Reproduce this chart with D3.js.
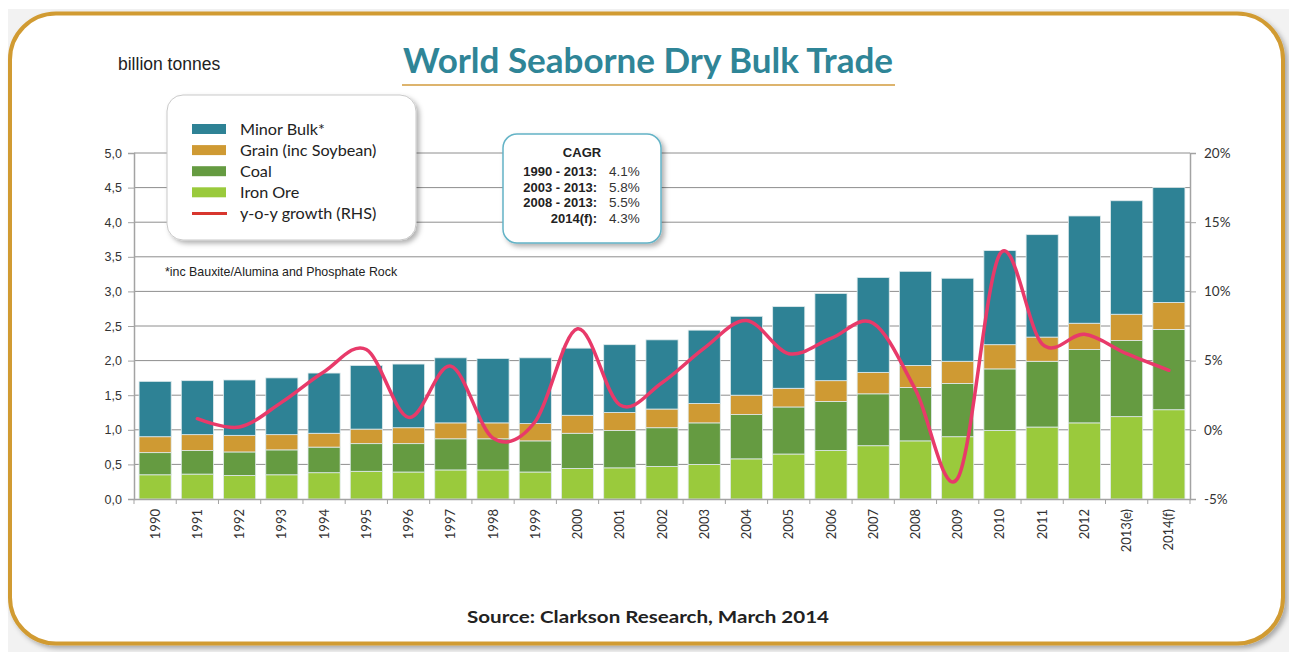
<!DOCTYPE html>
<html>
<head>
<meta charset="utf-8">
<script src="https://cdn.jsdelivr.net/npm/d3@7"></script>
<style>
  body { margin: 0; background: #fff; }
  svg { display: block; }
</style>
</head>
<body>
<svg id="chart" width="1289" height="652"></svg>
<script>
// values (billion tonnes, growth in %)
var years = ['1990','1991','1992','1993','1994','1995','1996','1997','1998','1999','2000','2001','2002',
             '2003','2004','2005','2006','2007','2008','2009','2010','2011','2012','2013(e)','2014(f)'];
var ironOre   = [0.35,0.36,0.34,0.35,0.38,0.40,0.39,0.42,0.42,0.39,0.44,0.45,0.47,0.50,0.58,0.65,0.70,0.77,0.84,0.90,0.99,1.04,1.10,1.19,1.29];
var coal      = [0.32,0.34,0.34,0.36,0.37,0.40,0.41,0.45,0.45,0.45,0.51,0.54,0.56,0.60,0.64,0.68,0.71,0.75,0.77,0.77,0.89,0.95,1.06,1.10,1.16];
var grain     = [0.23,0.23,0.24,0.22,0.20,0.21,0.23,0.23,0.23,0.25,0.26,0.26,0.27,0.28,0.28,0.27,0.30,0.31,0.32,0.32,0.35,0.35,0.38,0.38,0.39];
var minorBulk = [0.80,0.78,0.80,0.82,0.87,0.92,0.92,0.94,0.93,0.95,0.97,0.98,1.00,1.06,1.14,1.18,1.26,1.37,1.36,1.20,1.36,1.48,1.55,1.64,1.66];
var growth    = [null,0.8,0.2,2.0,4.2,5.8,0.9,4.6,-0.6,0.6,7.3,1.8,3.4,5.9,7.9,5.5,6.6,7.7,2.9,-3.5,12.7,6.2,6.9,5.5,4.3];

var leftTicks  = [0,0.5,1,1.5,2,2.5,3,3.5,4,4.5,5];
var rightTicks = [-5,0,5,10,15,20];

var seriesKeys   = ['iron','coal','grain','minor'];
var seriesColors = {iron:'#9aca3c', coal:'#659b41', grain:'#cf9a33', minor:'#2e8295'};
var legendItems  = [
  {label:'Minor Bulk*', color:seriesColors.minor, type:'bar'},
  {label:'Grain (inc Soybean)', color:seriesColors.grain, type:'bar'},
  {label:'Coal', color:seriesColors.coal, type:'bar'},
  {label:'Iron Ore', color:seriesColors.iron, type:'bar'},
  {label:'y-o-y growth (RHS)', color:'#d8362e', type:'line'}
];
var cagrLabels = ['1990 - 2013:','2003 - 2013:','2008 - 2013:','2014(f):'];
var cagrValues = ['4.1%','5.8%','5.5%','4.3%'];

var rows = years.map(function(y, i) {
  return {year:y, iron:ironOre[i], coal:coal[i], grain:grain[i], minor:minorBulk[i], growth:growth[i]};
});

var svg = d3.select('#chart');
var defs = svg.append('defs');

function shadow(id, dx, dy, sd, op) {
  defs.append('filter').attr('id', id)
      .attr('x', '-10%').attr('y', '-10%').attr('width', '130%').attr('height', '130%')
    .append('feDropShadow')
      .attr('dx', dx).attr('dy', dy).attr('stdDeviation', sd)
      .attr('flood-color', '#000').attr('flood-opacity', op);
}
shadow('frameShadow', 3, 3, 2.5, 0.3);
shadow('boxShadow', 3, 3, 2.5, 0.3);

// page + frame
svg.append('rect').attr('x', 8).attr('y', 9).attr('width', 1281).attr('height', 643).attr('fill', '#f2f2f2');
svg.append('rect')
  .attr('x', 10).attr('y', 13.5).attr('width', 1273).attr('height', 630)
  .attr('rx', 46).attr('ry', 46)
  .attr('fill', '#fff').attr('stroke', '#d19b33').attr('stroke-width', 4)
  .attr('filter', 'url(#frameShadow)');

var X0 = 134, X1 = 1190, Y0 = 499, Y1 = 153;

var x = d3.scaleBand().domain(years).range([X0, X1]).paddingInner(0.24).paddingOuter(0.12);
var yL = d3.scaleLinear().domain([0, 5]).range([Y0, Y1]);
var yR = d3.scaleLinear().domain([-5, 20]).range([Y0, Y1]);

// gridlines
svg.append('g').selectAll('line')
  .data(leftTicks.slice(1))
  .enter().append('line')
  .attr('x1', X0).attr('x2', X1)
  .attr('y1', function(d) { return yL(d); })
  .attr('y2', function(d) { return yL(d); })
  .attr('stroke', '#8e8e8e').attr('stroke-width', 1);

// stacked bars
var stacked = d3.stack().keys(seriesKeys)(rows);
svg.append('g').selectAll('g')
  .data(stacked)
  .enter().append('g')
  .attr('fill', function(d) { return seriesColors[d.key]; })
  .selectAll('rect')
  .data(function(d) { return d; })
  .enter().append('rect')
  .attr('x', function(d) { return x(d.data.year); })
  .attr('width', x.bandwidth())
  .attr('y', function(d) { return yL(d[1]); })
  .attr('height', function(d) { return yL(d[0]) - yL(d[1]); })
  .attr('stroke', '#dfeaec').attr('stroke-width', 0.8);

// axes
var axL = svg.append('g').attr('transform', 'translate(' + X0 + ',0)')
  .call(d3.axisLeft(yL).tickValues(leftTicks).tickSize(6).tickPadding(6)
        .tickFormat(function(d) { return d3.format('.1f')(d).replace('.', ','); }));
var axR = svg.append('g').attr('transform', 'translate(' + X1 + ',0)')
  .call(d3.axisRight(yR).tickValues(rightTicks).tickSize(6).tickPadding(8)
        .tickFormat(function(d) { return d + '%'; }));
var axB = svg.append('g').attr('transform', 'translate(0,' + Y0 + ')')
  .call(d3.axisBottom(x).tickSize(0).tickFormat(''));

[axL, axR, axB].forEach(function(a) {
  a.select('.domain').attr('stroke', '#a3a3a3').attr('stroke-width', 1.5);
  a.selectAll('.tick line').attr('stroke', '#a3a3a3');
});
axL.selectAll('text').attr('font-family', 'Liberation Sans, Arial, sans-serif').attr('font-size', 12.5).attr('fill', '#333');
axR.selectAll('text').attr('font-family', 'Lato, sans-serif').attr('font-size', 13.5).attr('fill', '#333');

// category separators and rotated labels
svg.append('g').selectAll('line')
  .data(d3.range(years.length + 1))
  .enter().append('line')
  .attr('x1', function(i) { return X0 + i * x.step(); })
  .attr('x2', function(i) { return X0 + i * x.step(); })
  .attr('y1', Y0).attr('y2', Y0 + 5)
  .attr('stroke', '#a3a3a3');

svg.append('g').selectAll('text')
  .data(years)
  .enter().append('text')
  .attr('transform', function(d) { return 'translate(' + (x(d) + x.bandwidth() / 2) + ',' + (Y0 + 10) + ') rotate(-90)'; })
  .attr('text-anchor', 'end')
  .attr('dy', '0.35em')
  .attr('font-family', 'Lato, sans-serif').attr('font-size', 13).attr('fill', '#333')
  .text(function(d) { return d; });

// growth line
var line = d3.line()
  .defined(function(d) { return d.growth !== null; })
  .x(function(d) { return x(d.year) + x.bandwidth() / 2; })
  .y(function(d) { return yR(d.growth); })
  .curve(d3.curveCardinal.tension(0));
svg.append('path')
  .datum(rows.filter(function(d) { return d.growth !== null; }))
  .attr('d', line)
  .attr('fill', 'none').attr('stroke', '#e83a6a').attr('stroke-width', 3.5)
  .attr('stroke-linecap', 'round');

// legend box
var lg = svg.append('g');
lg.append('rect')
  .attr('x', 167).attr('y', 95).attr('width', 249).attr('height', 145)
  .attr('rx', 16).attr('fill', '#fff').attr('stroke', '#c9c9c9').attr('stroke-width', 1)
  .attr('filter', 'url(#boxShadow)');
var items = lg.selectAll('g.item')
  .data(legendItems)
  .enter().append('g')
  .attr('class', 'item')
  .attr('transform', function(d, i) { return 'translate(192,' + (129 + i * 21.1) + ')'; });
items.filter(function(d) { return d.type == 'bar'; })
  .append('rect').attr('x', 0).attr('y', -5).attr('width', 34).attr('height', 10)
  .attr('fill', function(d) { return d.color; });
items.filter(function(d) { return d.type == 'line'; })
  .append('line').attr('x1', 0).attr('x2', 35).attr('y1', 0).attr('y2', 0)
  .attr('stroke', function(d) { return d.color; }).attr('stroke-width', 3);
items.append('text')
  .attr('x', 48).attr('dy', '0.35em')
  .attr('font-family', 'Lato, sans-serif').attr('font-size', 16.2).attr('fill', '#222')
  .text(function(d) { return d.label; });

svg.append('text')
  .attr('x', 165).attr('y', 276)
  .attr('font-family', 'Liberation Sans, Arial, sans-serif').attr('font-size', 12.4).attr('fill', '#222')
  .text('*inc Bauxite/Alumina and Phosphate Rock');

// CAGR box
var cg = svg.append('g');
cg.append('rect')
  .attr('x', 503).attr('y', 134).attr('width', 158).attr('height', 109)
  .attr('rx', 14).attr('fill', '#fff').attr('stroke', '#63b3c6').attr('stroke-width', 1.5)
  .attr('filter', 'url(#boxShadow)');
cg.append('text')
  .attr('x', 582).attr('y', 157).attr('text-anchor', 'middle')
  .attr('font-family', 'Liberation Sans, Arial, sans-serif').attr('font-weight', 'bold').attr('font-size', 13).attr('fill', '#222')
  .text('CAGR');
cg.selectAll('text.lab')
  .data(cagrLabels)
  .enter().append('text')
  .attr('class', 'lab')
  .attr('x', 597).attr('y', function(d, i) { return 176 + i * 15.6; })
  .attr('text-anchor', 'end')
  .attr('font-family', 'Liberation Sans, Arial, sans-serif').attr('font-weight', 'bold').attr('font-size', 13).attr('fill', '#222')
  .text(function(d) { return d; });
cg.selectAll('text.val')
  .data(cagrValues)
  .enter().append('text')
  .attr('class', 'val')
  .attr('x', 609).attr('y', function(d, i) { return 176 + i * 15.6; })
  .attr('font-family', 'Liberation Sans, Arial, sans-serif').attr('font-size', 13.5).attr('fill', '#333')
  .text(function(d) { return d; });

// titles
svg.append('text')
  .attr('x', 118).attr('y', 70)
  .attr('font-family', 'Liberation Sans, Arial, sans-serif').attr('font-size', 17.5).attr('fill', '#222')
  .text('billion tonnes');

svg.append('text')
  .attr('x', 403).attr('y', 73)
  .attr('textLength', 490).attr('lengthAdjust', 'spacingAndGlyphs')
  .attr('font-family', 'Lato, sans-serif').attr('font-weight', 'bold').attr('font-size', 34).attr('fill', '#2f8597')
  .text('World Seaborne Dry Bulk Trade');
svg.append('line')
  .attr('x1', 402).attr('x2', 895).attr('y1', 85).attr('y2', 85)
  .attr('stroke', '#d29b3c').attr('stroke-width', 1.5);

svg.append('text')
  .attr('x', 467).attr('y', 623)
  .attr('textLength', 362).attr('lengthAdjust', 'spacingAndGlyphs')
  .attr('font-family', 'Lato, sans-serif').attr('font-weight', 'bold').attr('font-size', 17).attr('fill', '#222')
  .text('Source: Clarkson Research, March 2014');
</script>
</body>
</html>
